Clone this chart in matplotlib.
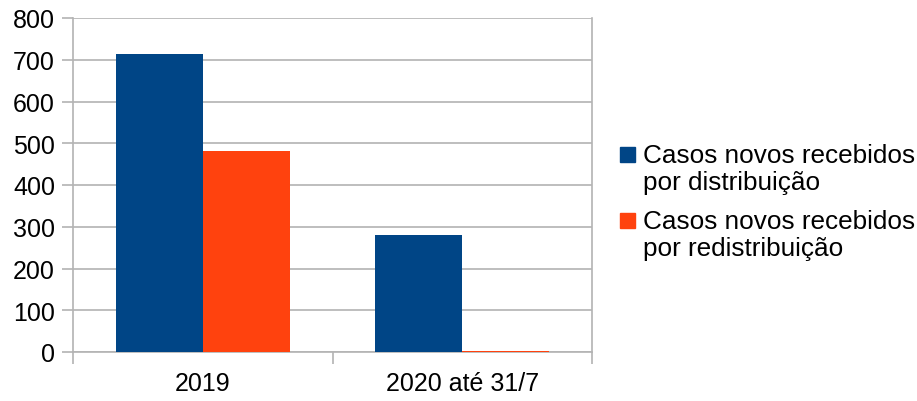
import numpy as np
import matplotlib.pyplot as plt
from matplotlib.patches import Rectangle

plt.rcParams['font.family'] = ['Liberation Sans', 'DejaVu Sans']

# %% Data
categories = ['2019', '2020 até 31/7']
series_names = [['Casos novos recebidos', 'por distribuição'],
                ['Casos novos recebidos', 'por redistribuição']]
distribuicao = [714, 280]
redistribuicao = [481, 3]
colors = ['#004586', '#ff420e']
grid_color = '#b3b3b3'
fs = 18

# %% Plot
W, H = 917, 402
fig = plt.figure(figsize=(W / 100, H / 100), dpi=100)
ax = fig.add_axes([73 / W, 49 / H, 519 / W, 334 / H])

x = np.arange(len(categories))
w = 0.335
ax.bar(x - w / 2, distribuicao, w, color=colors[0], zorder=3)
ax.bar(x + w / 2, redistribuicao, w, color=colors[1], zorder=3)

ax.set_xlim(-0.5, len(categories) - 0.5)
ax.set_ylim(0, 800)
ax.set_yticks(np.arange(0, 801, 100))
ax.yaxis.grid(True, color=grid_color, linewidth=1.2, zorder=0)
ax.set_axisbelow(True)

# category boundaries as ticks, labels centred between
ax.set_xticks(np.arange(len(categories) + 1) - 0.5)
ax.set_xticklabels([])
ax.set_xticks(x, minor=True)
ax.set_xticklabels(categories, minor=True, fontsize=fs)
ax.tick_params(axis='x', which='minor', length=0, pad=13.5)
ax.tick_params(axis='x', which='major', length=8.6, width=1.2, color=grid_color)
ax.tick_params(axis='y', length=8, width=1.2, color=grid_color, labelsize=fs, pad=5)

ax.spines['top'].set_visible(False)
for s in ['left', 'right', 'bottom']:
    ax.spines[s].set_color(grid_color)
    ax.spines[s].set_linewidth(1.2)
    ax.spines[s].set_zorder(1)

# legend drawn by hand: square next to the first line of each label
line_h = 27
entry_h = 66
for i, (name, c) in enumerate(zip(series_names, colors)):
    base = 163 + i * entry_h
    fig.patches.append(Rectangle((620 / W, (H - base) / H), 15 / W, 15 / H,
                                 transform=fig.transFigure, color=c))
    for j, line in enumerate(name):
        fig.text(643 / W, (H - base - j * line_h) / H, line, fontsize=18.8,
                 va='baseline', ha='left')

fig.savefig('out.png', dpi=100)
